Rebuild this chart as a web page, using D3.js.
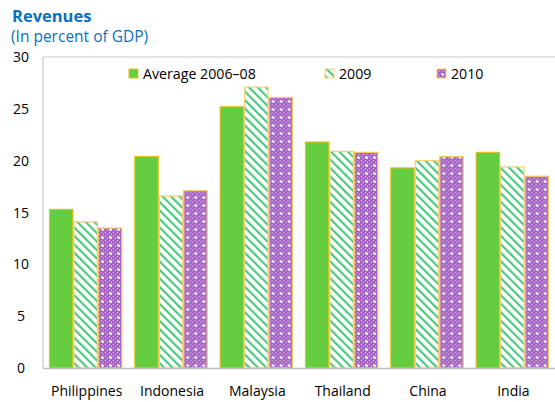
<!DOCTYPE html>
<html>
<head>
<meta charset="utf-8">
<script src="https://cdn.jsdelivr.net/npm/d3@7"></script>
<style>
  body { margin: 0; background: #fff; }
  text { font-family: "Open Sans", "Noto Sans", sans-serif; }
</style>
</head>
<body>
<svg width="555" height="402"></svg>
<script>
// data
let countries = ["Philippines", "Indonesia", "Malaysia", "Thailand", "China", "India"];
let seriesNames = ["Average 2006\u201308", "2009", "2010"];
let avg0608 = [15.3, 20.4, 25.2, 21.8, 19.3, 20.8];
let y2009 = [14.1, 16.6, 27.1, 20.9, 20.0, 19.4];
let y2010 = [13.5, 17.1, 26.1, 20.8, 20.4, 18.5];
let yTicks = [0, 5, 10, 15, 20, 25, 30];

let svg = d3.select("svg");
let margin = {left: 43, right: 0, top: 57, bottom: 34};
let width = +svg.attr("width");
let height = +svg.attr("height");

// patterns
let defs = svg.append("defs");
let stripes = defs.append("pattern")
  .attr("id", "stripes")
  .attr("patternUnits", "userSpaceOnUse")
  .attr("width", 6).attr("height", 6)
  .attr("patternTransform", "rotate(-45)");
stripes.append("rect").attr("width", 6).attr("height", 6).attr("fill", "#fff");
stripes.append("rect").attr("x", 0).attr("width", 2.2).attr("height", 6).attr("fill", "#4cc880");

let dots = defs.append("pattern")
  .attr("id", "dots")
  .attr("patternUnits", "userSpaceOnUse")
  .attr("width", 8).attr("height", 8);
dots.append("rect").attr("width", 8).attr("height", 8).attr("fill", "#a866c8");
[[0,0],[2,2],[4,0],[6,2],[0,4],[2,6],[4,4],[6,6]].forEach(p => {
  dots.append("rect").attr("x", p[0]).attr("y", p[1]).attr("width", 1).attr("height", 1)
    .attr("fill", "#fff").attr("opacity", 0.6);
});
// little crosses
dots.append("rect").attr("x", 4).attr("y", 5).attr("width", 3).attr("height", 1).attr("fill", "#fff");
dots.append("rect").attr("x", 5).attr("y", 4).attr("width", 1).attr("height", 3).attr("fill", "#fff");

let fills = ["#66cc40", "url(#stripes)", "url(#dots)"];
let strokes = ["#e4c020", "#f5d070", "#f5c860"];

let x0 = d3.scaleBand()
  .domain(countries)
  .range([margin.left, width - margin.right])
  .paddingInner(0.14)
  .paddingOuter(0.07);
let x1 = d3.scaleBand()
  .domain(seriesNames)
  .range([0, x0.bandwidth()]);
let y = d3.scaleLinear()
  .domain([0, 30])
  .range([height - margin.bottom, margin.top]);

// title
svg.append("text").attr("x", 12).attr("y", 22)
  .attr("fill", "#0b70c0").attr("font-size", 16.5).attr("font-weight", "bold")
  .text("Revenues");
svg.append("text").attr("x", 11).attr("y", 42)
  .attr("fill", "#0b70c0").attr("font-size", 15.5)
  .text("(In percent of GDP)");

// frame lines
svg.append("line")
  .attr("x1", margin.left).attr("x2", width)
  .attr("y1", y(30)).attr("y2", y(30))
  .attr("stroke", "#c8c8c8");
svg.append("line")
  .attr("x1", margin.left).attr("x2", margin.left)
  .attr("y1", y(30)).attr("y2", y(0))
  .attr("stroke", "#bdbdbd");

// y tick labels
svg.append("g").selectAll("text")
  .data(yTicks)
  .join("text")
    .attr("x", 21)
    .attr("y", d => y(d) + 5)
    .attr("text-anchor", "middle")
    .attr("font-size", 14)
    .attr("fill", "#000")
    .text(d => d);

// bars
let table = countries.map((c, i) => ({country: c, vals: [avg0608[i], y2009[i], y2010[i]]}));
let groups = svg.append("g").selectAll("g")
  .data(table)
  .join("g")
    .attr("transform", d => "translate(" + x0(d.country) + ",0)");
groups.selectAll("rect")
  .data(d => d.vals.map((v, k) => ({k: k, v: v})))
  .join("rect")
    .attr("x", d => x1(seriesNames[d.k]) + 0.5)
    .attr("width", x1.bandwidth() - 1)
    .attr("y", d => y(d.v))
    .attr("height", d => y(0) - y(d.v))
    .attr("fill", d => fills[d.k])
    .attr("stroke", d => strokes[d.k])
    .attr("stroke-width", 1.2);

// x axis line
svg.append("line")
  .attr("x1", margin.left).attr("x2", width)
  .attr("y1", y(0) + 0.5).attr("y2", y(0) + 0.5)
  .attr("stroke", "#bdbdbd").attr("stroke-width", 1.5);

// x labels
svg.append("g").selectAll("text")
  .data(countries)
  .join("text")
    .attr("x", d => x0(d) + x0.bandwidth() / 2 + 1)
    .attr("y", 396)
    .attr("text-anchor", "middle")
    .attr("font-size", 14)
    .text(d => d);

// legend
let legendX = [129, 325, 437];
let legend = svg.append("g").selectAll("g")
  .data(seriesNames)
  .join("g")
    .attr("transform", (d, i) => "translate(" + legendX[i] + ",69)");
legend.append("rect")
  .attr("width", 9).attr("height", 9)
  .attr("fill", (d, i) => fills[i])
  .attr("stroke", (d, i) => strokes[i]);
legend.append("text")
  .attr("x", 14).attr("y", 10)
  .attr("font-size", 14.2)
  .text(d => d);
</script>
</body>
</html>
